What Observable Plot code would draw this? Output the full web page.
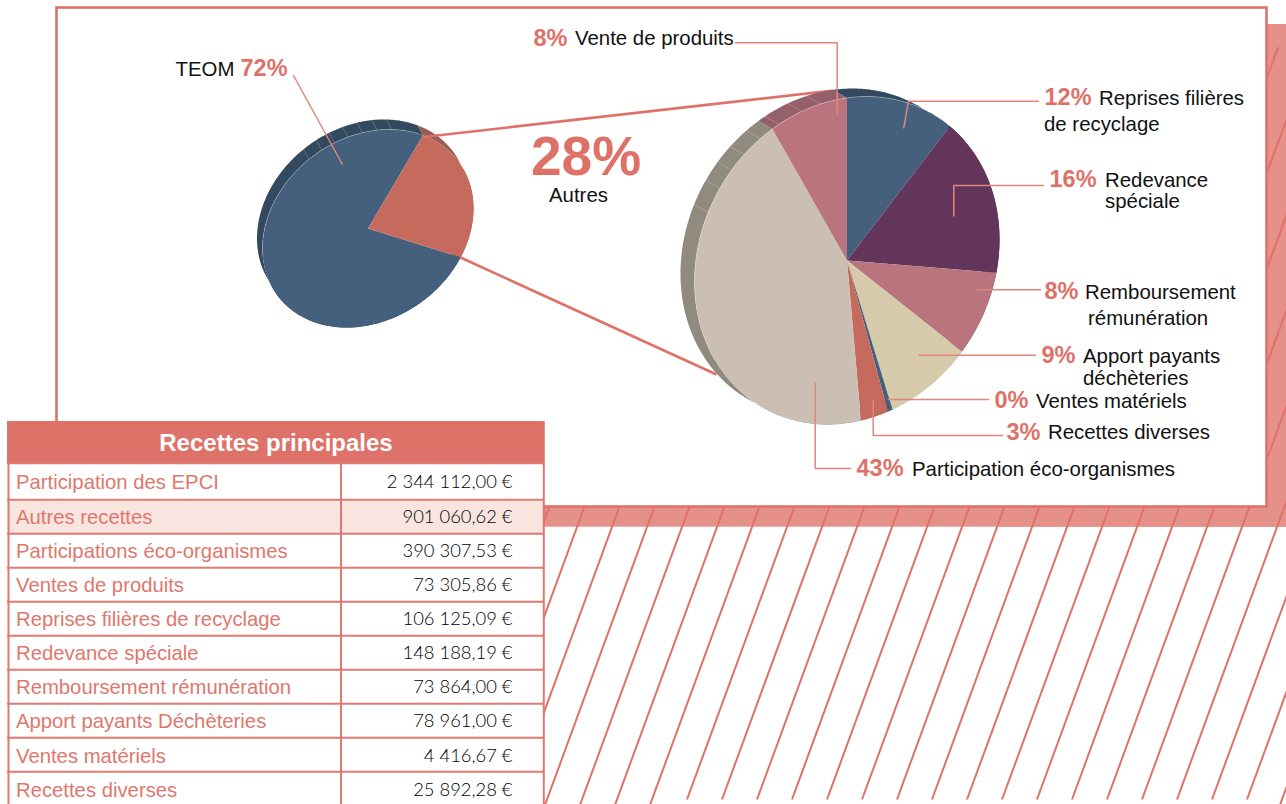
<!DOCTYPE html>
<html><head><meta charset="utf-8">
<style>html,body{margin:0;padding:0;background:#fff;overflow:hidden}svg{display:block}</style>
<script src="https://cdn.jsdelivr.net/npm/d3@7"></script>
<script src="https://cdn.jsdelivr.net/npm/@observablehq/plot@0.6"></script>
</head><body><div id="chart"></div>
<script>
// ---------- data ----------
const tableTitle = "Recettes principales";
const tableLabels = ["Participation des EPCI","Autres recettes","Participations éco-organismes","Ventes de produits","Reprises filières de recyclage","Redevance spéciale","Remboursement rémunération","Apport payants Déchèteries","Ventes matériels","Recettes diverses"];
const tableAmounts = [2344112.00,901060.62,390307.53,73305.86,106125.09,148188.19,73864.00,78961.00,4416.67,25892.28];

const mainNames = ["TEOM","Autres"];
const mainValues = [2344112.00,901060.62];
const mainFrontColors = ["#44607d","#c66a5d"];
const mainSideColors = ["#33495f","#9a5d55"];

const detailNames = ["Reprises","Redevance","Remboursement","Apport","Ventes matériels","Recettes diverses","Participation","Vente de produits"];
const detailValues = [106125.09,148188.19,73864.00,78961.00,4416.67,25892.28,390307.53,73305.86];
const detailFrontColors = ["#44607d","#63355a","#b9747e","#d5cbab","#44607d","#c66a5d","#cbbfb3","#b9747e"];
const detailSideColors = ["#33495f","#4b2844","#8c5860","#a19a82","#33495f","#96504a","#918a7e","#96606a"];

// ---------- look ----------
const salmon = "#df7268", leader = "#e4857c", band = "#e59189", tint = "#f8e5e0";
const sans = "'Liberation Sans', Arial, sans-serif", geo = "Lato, 'Open Sans', sans-serif";
const W = 1286, H = 804;
const rad = Math.PI/180;

// pie geometry: a disc seen at an angle, extruded towards the upper left
const mainPie = {cx:367.5, cy:228, A:105.5, S:-20, B:97, off:[-5.5,-10]};
const detailPie = {cx:846.5, cy:260, A:152.5, S:-21, B:162.6, off:[-14,-8]};
const pt = (p,deg,o=0) => { // deg = clockwise from 12 o'clock
  const t=(deg-90)*rad;
  return {x:p.cx+p.A*Math.cos(t)+o*p.off[0], y:p.cy+p.S*Math.cos(t)+p.B*Math.sin(t)+o*p.off[1]};
};
function slices(p,values,front,side,angleOf){
  const tot=d3.sum(values); let c=0; const wedges=[],walls=[];
  values.forEach((v,i)=>{
    const a0=angleOf(c/tot), a1=angleOf((c+v)/tot); c+=v;
    const n=Math.max(2,Math.ceil(a1-a0)), as=d3.range(n+1).map(k=>a0+(a1-a0)*k/n);
    wedges.push({x:p.cx,y:p.cy,id:i,fill:front[i]});
    as.forEach(a=>wedges.push({...pt(p,a),id:i,fill:front[i]}));
    as.forEach(a=>walls.push({...pt(p,a),id:i,fill:side[i]}));
    as.slice().reverse().forEach(a=>walls.push({...pt(p,a,1),id:i,fill:side[i]}));
  });
  return {wedges,walls};
}
// the small pie's 3D view foreshortens the Autres wedge: fraction of the pie -> angle on the disc
const mainAngle = d3.scaleLinear().domain([0,mainValues[0]/d3.sum(mainValues),1]).range([118.6,391.4,478.6]);
const detailAngle = f => f*360;
const mainS = slices(mainPie,mainValues,mainFrontColors,mainSideColors,mainAngle);
const detailS = slices(detailPie,detailValues,detailFrontColors,detailSideColors,detailAngle);

// facet marks on the extruded wall (angle from 12 o'clock)
const mainFacets = [-34,-26,-18.4,-11,-3,5,13];
const detailFacets = [-65.6,-56.5,-49.2,-42.4,-34.6,-26.5,-17.3,-10];
const facetLinks = (p,list) => list.map(a=>{const f=pt(p,a),b=pt(p,a,1);return {x1:f.x,y1:f.y,x2:b.x,y2:b.y};});
const rimLine = (p,a0,a1) => d3.range(a0,a1+1,2).map(a=>pt(p,a));

// hatch
const hatchSlope=0.367;
const hatch = d3.range(0,25).map(k=>{
  const x508=548.3+35*k, y2=(x508<770||x508>1380)?H:799;
  return {x1:x508+hatchSlope*(508-46.7),y1:46.7,x2:x508-hatchSlope*(y2-508),y2};
});

// leaders
const thinLeaders = [
  [[293,75],[341.7,163.5]],
  [[735,42.3],[836.7,42.3],[836.7,113]],
  [[1038,100.7],[908,100.7],[903.3,127.3]],
  [[1043,185],[953.3,185],[953.3,215.5]],
  [[1040,289.3],[976.7,289.3]],
  [[1035,354.7],[918.7,354.7]],
  [[988,399],[887.7,399]],
  [[872.7,400],[872.7,435],[1002,435]],
  [[814.7,382.7],[814.7,468],[850,468]]
].flatMap((l,i)=>l.map(([x,y])=>({x,y,i})));
const zoomLinks = [{x1:423,y1:136.5,x2:833,y2:90},{x1:460,y1:257,x2:716,y2:374}];

// labels: percentage, text
const pctLabels = [
 {t:"72%",x:240,y:68},{t:"8%",x:533,y:38},{t:"12%",x:1044,y:97},{t:"16%",x:1049,y:179},
 {t:"8%",x:1044,y:291},{t:"9%",x:1041,y:355},{t:"0%",x:994,y:400},{t:"3%",x:1006,y:432},{t:"43%",x:856,y:468}];
const textLabels = [
 {t:"TEOM",x:175,y:69},{t:"Vente de produits",x:574.5,y:38},{t:"Reprises filières",x:1098.5,y:98},{t:"de recyclage",x:1043.5,y:124},
 {t:"Redevance",x:1104.5,y:180},{t:"spéciale",x:1104.5,y:201},{t:"Remboursement",x:1084.5,y:292},{t:"rémunération",x:1087.5,y:318},
 {t:"Apport payants",x:1082.5,y:356},{t:"déchèteries",x:1082.5,y:378},{t:"Ventes matériels",x:1035.5,y:401},
 {t:"Recettes diverses",x:1047.5,y:432},{t:"Participation éco-organismes",x:911.5,y:469},{t:"Autres",x:548.5,y:195}];

// table
const fr = d3.formatLocale({decimal:",",thousands:"\u00a0",grouping:[3],currency:["","\u00a0€"]});
const money = v => fr.format(",.2f")(v)+"\u00a0€";
const rowTop = i => i===0?462.7:499.3+(i-1)*34;
const rows = tableLabels.map((label,i)=>({label,amount:tableAmounts[i],i,top:rowTop(i),bottom:i===9?H:rowTop(i+1)}));
const rowY = [481.5,516.5,550.5,584.5,618.5,652.5,686.5,720.5,755.5,789.5];

const chart = Plot.plot({
  width:W,height:H,margin:0,
  x:{domain:[0,W],range:[0,W],axis:null},
  y:{domain:[0,H],range:[0,H],axis:null},
  style:{background:"#fff"},
  marks:[
    // offset band and hatch
    Plot.rect([{}],{x1:1000,x2:W,y1:24,y2:526.7,fill:band}),
    Plot.rect([{}],{x1:540,x2:W,y1:506,y2:526.7,fill:band}),
    Plot.link(hatch,{x1:"x1",y1:"y1",x2:"x2",y2:"y2",stroke:salmon,strokeWidth:2}),
    // panel
    Plot.rect([{}],{x1:56.5,x2:1266.5,y1:7.5,y2:506.5,fill:"#fff",stroke:salmon,strokeWidth:2.6}),
    // small pie
    Plot.line(mainS.walls,{x:"x",y:"y",z:"id",fill:"fill",stroke:null}),
    Plot.link(facetLinks(mainPie,mainFacets),{x1:"x1",y1:"y1",x2:"x2",y2:"y2",stroke:"#fff",strokeOpacity:0.3,strokeWidth:0.7}),
    Plot.line(mainS.wedges,{x:"x",y:"y",z:"id",fill:"fill",stroke:null}),
    Plot.line(rimLine(mainPie,-95,30),{x:"x",y:"y",stroke:"#fff",strokeOpacity:0.35,strokeWidth:0.7}),
    // zoom connectors
    Plot.link(zoomLinks,{x1:"x1",y1:"y1",x2:"x2",y2:"y2",stroke:salmon,strokeWidth:2.6}),
    // big pie
    Plot.line(detailS.walls,{x:"x",y:"y",z:"id",fill:"fill",stroke:null}),
    Plot.link(facetLinks(detailPie,detailFacets),{x1:"x1",y1:"y1",x2:"x2",y2:"y2",stroke:"#fff",strokeOpacity:0.3,strokeWidth:0.7}),
    Plot.line(detailS.wedges,{x:"x",y:"y",z:"id",fill:"fill",stroke:null}),
    Plot.line(rimLine(detailPie,-120,42),{x:"x",y:"y",stroke:"#fff",strokeOpacity:0.35,strokeWidth:0.7}),
    // leaders
    Plot.line(thinLeaders,{x:"x",y:"y",z:"i",stroke:leader,strokeWidth:1.5,curve:"linear"}),
    // labels
    Plot.text(textLabels,{x:"x",y:"y",text:"t",textAnchor:"start",lineAnchor:"middle",fill:"#111",fontFamily:sans,fontSize:20.4}),
    Plot.text(pctLabels,{x:"x",y:"y",text:"t",textAnchor:"start",lineAnchor:"middle",fill:salmon,fontFamily:sans,fontSize:23.5,fontWeight:700}),
    Plot.text([{t:"28%",x:530.5,y:157}],{x:"x",y:"y",text:"t",textAnchor:"start",lineAnchor:"middle",fill:salmon,fontFamily:sans,fontSize:55,fontWeight:700}),
    // table
    Plot.rect([{}],{x1:7,x2:544,y1:421,y2:463,fill:salmon}),
    Plot.rect(rows.filter(d=>d.i===1),{x1:8,x2:543.3,y1:"top",y2:"bottom",fill:tint}),
    Plot.rect(rows.filter(d=>d.i!==1),{x1:8,x2:543.3,y1:"top",y2:"bottom",fill:"#fff"}),
    Plot.ruleY(rows,{y:"top",x1:7,x2:544,stroke:salmon,strokeOpacity:0.95,strokeWidth:2}),
    Plot.ruleX([8,340.5,543.3],{y1:421,y2:H,stroke:salmon,strokeOpacity:0.95,strokeWidth:2}),
    Plot.rect([{}],{x1:7,x2:544,y1:421,y2:462,fill:salmon}),
    Plot.text([tableTitle],{x:275.5,y:443,text:d=>d,fill:"#fff",fontFamily:sans,fontSize:24,fontWeight:700,lineAnchor:"middle"}),
    Plot.text(rows,{x:15.5,y:d=>rowY[d.i],text:"label",textAnchor:"start",lineAnchor:"middle",fill:"#e0776d",fontFamily:sans,fontSize:20.3}),
    Plot.text(rows,{x:512,y:d=>rowY[d.i],text:d=>money(d.amount),textAnchor:"end",lineAnchor:"middle",fill:"#000",fontFamily:geo,fontWeight:300,fontSize:18.4}),
  ]
});
document.getElementById("chart").appendChild(chart);
</script></body></html>
